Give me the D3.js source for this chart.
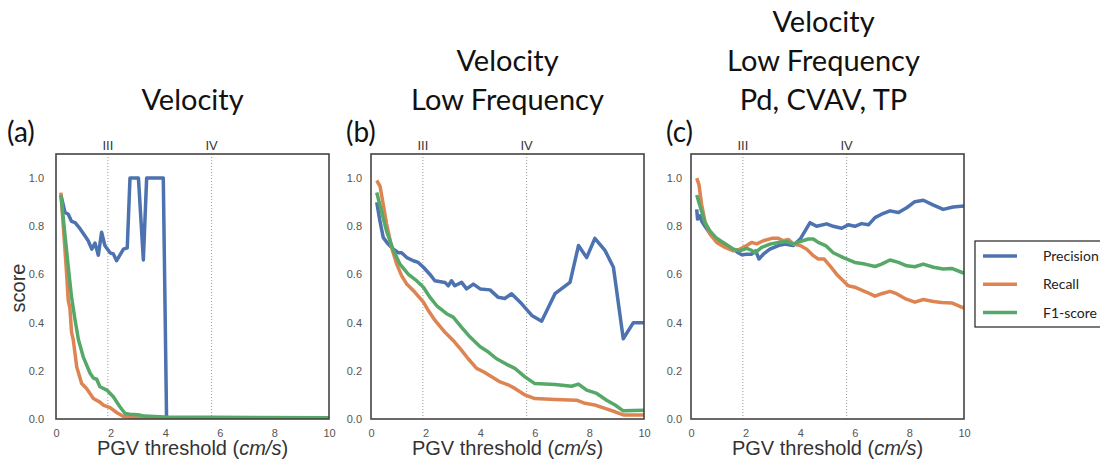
<!DOCTYPE html>
<html lang="en">
<head>
    <meta charset="UTF-8">
    <script src="https://d3js.org/d3.v7.min.js"></script>
    <title>PGV threshold scores</title>
    <style>
      body { margin: 0; background: #fff; }
      text { font-family: "Liberation Sans", Arial, sans-serif; }
      .title, .panel, .legend text { font-family: Lato, "Noto Sans", sans-serif; }
    </style>
</head>
<body>
<script>

// x = PGV threshold (cm/s), y = score
// (a) Velocity
var aPrecision = [[0.18,0.93],[0.33,0.857],[0.45,0.85],[0.57,0.82],[0.70,0.815],[0.88,0.79],[1.0,0.77],[1.18,0.74],
    [1.31,0.705],[1.43,0.73],[1.55,0.68],[1.67,0.775],[1.79,0.72],[1.98,0.69],[2.1,0.685],[2.22,0.657],[2.34,0.68],
    [2.47,0.705],[2.61,0.71],[2.71,1.0],[3.02,1.0],[3.2,0.66],[3.32,1.0],[3.93,1.0],[4.05,0],[10,0]]
var aRecall = [[0.18,0.94],[0.33,0.70],[0.39,0.60],[0.45,0.49],[0.51,0.46],[0.57,0.36],[0.63,0.33],[0.76,0.216],
    [0.94,0.147],[1.12,0.127],[1.37,0.085],[1.61,0.07],[1.73,0.058],[1.98,0.047],[2.22,0.027],[2.47,0.01],
    [3.0,0.005],[3.5,0.002],[10,0.002]]
var aF1 = [[0.18,0.93],[0.45,0.63],[0.57,0.505],[0.70,0.41],[0.82,0.33],[1.0,0.257],[1.25,0.19],[1.37,0.17],
    [1.49,0.165],[1.61,0.134],[1.86,0.12],[2.1,0.092],[2.34,0.051],[2.53,0.023],[2.7,0.02],[3.0,0.018],
    [3.25,0.012],[3.6,0.01],[4.0,0.008],[10,0.005]]

// (b) Velocity, Low Frequency
var bPrecision = [[0.21,0.90],[0.33,0.82],[0.45,0.753],[0.63,0.726],[0.82,0.705],[1.0,0.69],[1.12,0.69],[1.31,0.67],
    [1.55,0.657],[1.73,0.65],[1.92,0.63],[2.16,0.60],[2.34,0.574],[2.71,0.567],[2.83,0.553],[2.95,0.574],[3.07,0.553],
    [3.32,0.567],[3.5,0.54],[3.75,0.56],[4.0,0.54],[4.36,0.536],[4.66,0.505],[4.9,0.5],[5.15,0.52],[5.52,0.478],
    [5.89,0.43],[6.25,0.406],[6.74,0.52],[7.29,0.567],[7.6,0.72],[7.9,0.67],[8.2,0.75],[8.57,0.70],[8.88,0.63],
    [9.24,0.333],[9.61,0.40],[10,0.40]]
var bRecall = [[0.21,0.99],[0.33,0.967],[0.45,0.89],[0.57,0.81],[0.76,0.71],[0.94,0.643],[1.12,0.595],[1.31,0.56],
    [1.61,0.526],[1.92,0.485],[2.1,0.45],[2.34,0.41],[2.71,0.36],[3.01,0.326],[3.32,0.285],[3.56,0.25],[3.87,0.21],
    [4.12,0.196],[4.42,0.175],[4.73,0.154],[5.0,0.143],[5.27,0.127],[5.64,0.1],[6.0,0.085],[6.74,0.081],[7.53,0.078],
    [7.84,0.065],[8.2,0.058],[8.57,0.044],[8.94,0.03],[9.24,0.017],[10,0.017]]
var bF1 = [[0.21,0.94],[0.39,0.86],[0.57,0.78],[0.82,0.70],[1.06,0.643],[1.37,0.60],[1.67,0.574],[1.92,0.547],
    [2.16,0.505],[2.41,0.47],[2.77,0.437],[3.01,0.423],[3.32,0.38],[3.63,0.34],[4.0,0.3],[4.3,0.278],[4.6,0.25],
    [4.95,0.228],[5.27,0.21],[5.64,0.175],[6.0,0.147],[6.74,0.143],[7.35,0.136],[7.6,0.145],[7.9,0.12],[8.27,0.106],
    [8.63,0.078],[8.94,0.058],[9.24,0.034],[10,0.036]]

// (c) Velocity, Low Frequency, Pd, CVAV, TP
var cPrecision = [[0.21,0.87],[0.24,0.83],[0.33,0.843],[0.39,0.822],[0.51,0.8],[0.76,0.76],[1.0,0.74],[1.31,0.72],
    [1.55,0.705],[1.73,0.69],[1.86,0.682],[2.04,0.684],[2.22,0.684],[2.37,0.698],[2.49,0.664],[2.65,0.684],
    [2.89,0.705],[3.2,0.72],[3.44,0.726],[3.63,0.722],[3.75,0.72],[4.0,0.747],[4.36,0.815],[4.6,0.8],[4.97,0.81],
    [5.21,0.8],[5.52,0.792],[5.76,0.806],[6.0,0.8],[6.25,0.811],[6.5,0.806],[6.74,0.836],[6.98,0.85],[7.29,0.864],
    [7.6,0.857],[7.9,0.877],[8.2,0.902],[8.51,0.908],[8.88,0.888],[9.24,0.87],[9.6,0.88],[10,0.884]]
var cRecall = [[0.21,1.0],[0.29,0.974],[0.39,0.89],[0.51,0.82],[0.70,0.767],[0.94,0.733],[1.25,0.712],[1.55,0.698],
    [1.79,0.705],[2.04,0.72],[2.22,0.733],[2.41,0.727],[2.65,0.74],[2.96,0.75],[3.2,0.75],[3.38,0.74],[3.57,0.745],
    [3.75,0.726],[4.0,0.72],[4.24,0.705],[4.48,0.678],[4.66,0.664],[4.88,0.664],[5.09,0.636],[5.34,0.60],[5.52,0.58],
    [5.76,0.553],[6.0,0.547],[6.44,0.526],[6.74,0.51],[6.98,0.52],[7.29,0.53],[7.53,0.52],[7.84,0.5],[8.2,0.485],
    [8.51,0.496],[8.88,0.488],[9.18,0.484],[9.55,0.482],[10,0.46]]
var cF1 = [[0.21,0.93],[0.33,0.884],[0.51,0.815],[0.70,0.78],[0.94,0.75],[1.25,0.728],[1.55,0.705],[1.79,0.698],
    [2.04,0.708],[2.22,0.70],[2.34,0.69],[2.59,0.712],[2.89,0.726],[3.2,0.733],[3.5,0.737],[3.75,0.726],[4.0,0.737],
    [4.3,0.747],[4.48,0.747],[4.66,0.733],[4.93,0.72],[5.21,0.69],[5.58,0.67],[6.0,0.65],[6.37,0.643],[6.74,0.633],
    [6.98,0.643],[7.29,0.66],[7.6,0.65],[7.9,0.636],[8.2,0.632],[8.51,0.643],[8.88,0.63],[9.24,0.623],[9.55,0.625],
    [10,0.605]]

var seriesNames = ["Precision", "Recall", "F1-score"]
var seriesColors = ["#4C72B0", "#DD8452", "#55A868"]
var panelLabels = ["(a)", "(b)", "(c)"]
var panelTitles = [["Velocity"], ["Velocity", "Low Frequency"], ["Velocity", "Low Frequency", "Pd, CVAV, TP"]]
var intensityLabels = ["III", "IV"]
var intensityValues = [1.9, 5.7]
var yTicks = [0, 0.2, 0.4, 0.6, 0.8, 1.0]
var xTicks = [0, 2, 4, 6, 8, 10]

var panelData = [
    [aPrecision, aRecall, aF1],
    [bPrecision, bRecall, bF1],
    [cPrecision, cRecall, cF1]
]

var width = 1100, height = 459
var plotLeft = [56, 371, 691]
var plotW = 273, plotTop = 154, plotBottom = 419

var svg = d3.select("body").append("svg")
    .attr("width", width)
    .attr("height", height)

var y = d3.scaleLinear().domain([0, 1.1]).range([plotBottom, plotTop])

panelData.forEach(function (series, i) {
    var x = d3.scaleLinear().domain([0, 10]).range([plotLeft[i], plotLeft[i] + plotW])
    var g = svg.append("g")

    var clipId = "clip" + i
    g.append("clipPath").attr("id", clipId)
        .append("rect")
        .attr("x", plotLeft[i]).attr("y", plotTop)
        .attr("width", plotW).attr("height", plotBottom - plotTop)

    // dotted intensity lines + labels
    intensityValues.forEach(function (v, k) {
        g.append("line")
            .attr("x1", x(v)).attr("x2", x(v))
            .attr("y1", plotTop).attr("y2", plotBottom)
            .attr("stroke", "#9a9a9a")
            .attr("stroke-width", 1)
            .attr("stroke-dasharray", "1,2")
        g.append("text")
            .attr("x", x(v)).attr("y", 150)
            .attr("text-anchor", "middle")
            .attr("font-size", 13)
            .attr("fill", "#333")
            .text(intensityLabels[k])
    })

    // axes, no tick marks
    g.append("g")
        .attr("transform", "translate(0," + plotBottom + ")")
        .call(d3.axisBottom(x).tickValues(xTicks).tickSize(0).tickPadding(10))
        .call(function (a) { a.select(".domain").remove() })
        .selectAll("text").attr("font-size", 11).attr("fill", "#555")
        .attr("font-family", "Liberation Sans, Arial, sans-serif")

    g.append("g")
        .attr("transform", "translate(" + plotLeft[i] + ",0)")
        .call(d3.axisLeft(y).tickValues(yTicks).tickFormat(d3.format(".1f")).tickSize(0).tickPadding(i == 0 ? 12 : 9))
        .call(function (a) { a.select(".domain").remove() })
        .selectAll("text").attr("font-size", 11).attr("fill", "#555")
        .attr("font-family", "Liberation Sans, Arial, sans-serif")

    var line = d3.line()
        .x(function (d) { return x(d[0]) })
        .y(function (d) { return y(d[1]) })

    series.forEach(function (s, k) {
        g.append("path")
            .attr("d", line(s))
            .attr("fill", "none")
            .attr("stroke", seriesColors[k])
            .attr("stroke-width", 3.5)
            .attr("stroke-linejoin", "round")
            .attr("clip-path", "url(#" + clipId + ")")
    })

    // frame
    g.append("rect")
        .attr("x", plotLeft[i]).attr("y", plotTop)
        .attr("width", plotW).attr("height", plotBottom - plotTop)
        .attr("fill", "none")
        .attr("stroke", "#444")
        .attr("stroke-width", 1.6)

    // x label
    var xl = g.append("text")
        .attr("x", plotLeft[i] + plotW / 2).attr("y", 455)
        .attr("text-anchor", "middle")
        .attr("font-size", 20)
        .attr("fill", "#333")
    xl.append("tspan").text("PGV threshold (")
    xl.append("tspan").attr("font-style", "italic").text("cm/s")
    xl.append("tspan").text(")")

    // titles
    var lines = panelTitles[i]
    lines.forEach(function (t, k) {
        g.append("text")
            .attr("class", "title")
            .attr("x", plotLeft[i] + plotW / 2 - (i == 2 ? 4 : 0))
            .attr("y", 110 - (lines.length - 1 - k) * 39)
            .attr("text-anchor", "middle")
            .attr("font-size", 29)
            .attr("fill", "#111")
            .text(t)
    })

    g.append("text")
        .attr("class", "panel")
        .attr("x", plotLeft[i] - (i == 0 ? 49 : 25))
        .attr("y", 142)
        .attr("font-size", 28)
        .attr("fill", "#111")
        .text(panelLabels[i])
})

// y label
svg.append("text")
    .attr("transform", "translate(25,288) rotate(-90)")
    .attr("text-anchor", "middle")
    .attr("font-size", 20)
    .attr("fill", "#333")
    .text("score")

// legend
var legend = svg.append("g").attr("class", "legend")
legend.append("rect")
    .attr("x", 975).attr("y", 241)
    .attr("width", 150).attr("height", 86)
    .attr("fill", "#fff")
    .attr("stroke", "#222")
    .attr("stroke-width", 1.2)
seriesNames.forEach(function (n, k) {
    var ly = 256 + k * 28.3
    legend.append("line")
        .attr("x1", 983).attr("x2", 1017)
        .attr("y1", ly).attr("y2", ly)
        .attr("stroke", seriesColors[k])
        .attr("stroke-width", 3.5)
    legend.append("text")
        .attr("x", 1043).attr("y", ly + 5)
        .attr("font-size", 14)
        .attr("fill", "#222")
        .text(n)
})

</script>
</body>
</html>
